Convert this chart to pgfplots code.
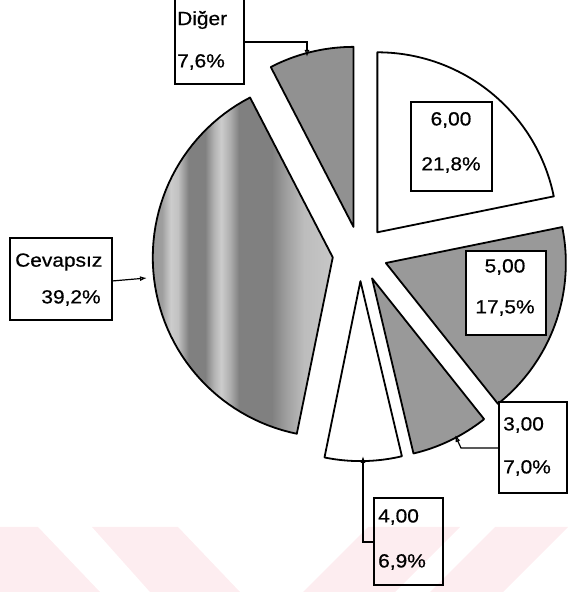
\documentclass[border=0pt]{standalone}
\usepackage{pgfplots}
\pgfplotsset{compat=1.18}
\usepackage{fontspec}
\setmainfont{Liberation Sans}[FakeStretch=1.1,FakeBold=0.6]
\usetikzlibrary{arrows.meta}
\definecolor{wm}{RGB}{253,237,240}
\pgfdeclarehorizontalshading{cevap}{100bp}{color(0bp)=(black!40); color(25bp)=(black!40); color(27.5bp)=(black!38); color(30bp)=(black!20); color(32bp)=(black!24); color(35bp)=(black!50); color(39.5bp)=(black!50); color(42bp)=(black!30); color(44bp)=(black!20); color(46.5bp)=(black!32); color(49bp)=(black!50); color(58bp)=(black!50); color(62bp)=(black!38); color(67bp)=(black!26); color(75bp)=(black!22); color(100bp)=(black!22)}
% pie data: cumulative share before the slice, share (%), style
\newcommand{\pieslice}[3]{%
  \pgfmathsetmacro{\sa}{90-3.6*#1}%
  \pgfmathsetmacro{\sb}{90-3.6*(#1+#2)}%
  \pgfmathsetmacro{\sm}{(\sa+\sb)/2}%
  \pgfmathsetmacro{\scx}{360+27.5*cos(\sm)}%
  \pgfmathsetmacro{\scy}{338.4+27.5*sin(\sm)}%
  \edef\temp{\noexpand\addplot[slice,#3,domain=\sb:\sa,samples=60] ({\scx+180*cos(x)},{\scy+180*sin(x)}) -- (axis cs:\scx,\scy) -- cycle;}%
  \temp
}
\begin{document}
\begin{tikzpicture}[
  slice/.style={draw=black, line width=1.8pt, line join=round},
  lab/.style={font=\fontsize{19}{22}\selectfont, inner sep=0pt},
  box/.style={draw=black, line width=1.4pt},
  arr/.style={draw=black, line width=1.2pt, -{Latex[open,length=7pt,width=5pt]}},
]
\clip (0,0) rectangle (568pt,592pt);
\begin{axis}[
  scale only axis, width=568pt, height=592pt,
  xmin=0, xmax=568, ymin=0, ymax=592,
  hide axis, clip=false,
]
% watermark
\fill[wm] (axis cs:0,65) -- (axis cs:38,65) -- (axis cs:100,0) -- (axis cs:0,0) -- cycle;
\fill[wm] (axis cs:92,65) -- (axis cs:178,65) -- (axis cs:240,0) -- (axis cs:150,0) -- cycle;
\fill[wm] (axis cs:368,65) -- (axis cs:460,65) -- (axis cs:395,0) -- (axis cs:303,0) -- cycle;
\fill[wm] (axis cs:495,65) -- (axis cs:568,65) -- (axis cs:503,0) -- (axis cs:430,0) -- cycle;
% slices clockwise from the top
\pieslice{0}{21.8}{fill=white}
\pieslice{21.8}{17.5}{fill=black!40}
\pieslice{39.3}{7.0}{fill=black!40}
\pieslice{46.3}{6.9}{fill=white}
\pieslice{53.2}{39.2}{shading=cevap}
\pieslice{92.4}{7.6}{fill=black!43}
% label boxes
\draw[box, fill=white] (axis cs:175,508) rectangle (axis cs:244,593);
\node[lab, anchor=west] at (axis cs:177,572) {Diğer};
\node[lab, anchor=west] at (axis cs:177,530) {7,6\%};
\draw[arr] (axis cs:244,550) -| (axis cs:307,535);
\draw[box, fill=white] (axis cs:411,401) rectangle (axis cs:492,490);
\node[lab] at (axis cs:451,472) {6,00};
\node[lab] at (axis cs:451,427) {21,8\%};
\draw[box, fill=white] (axis cs:466,257) rectangle (axis cs:546,341);
\node[lab] at (axis cs:505,325) {5,00};
\node[lab] at (axis cs:505,284) {17,5\%};
\draw[box, fill=white] (axis cs:499,99) rectangle (axis cs:567,190);
\node[lab, anchor=west] at (axis cs:503,167) {3,00};
\node[lab, anchor=west] at (axis cs:503,124) {7,0\%};
\draw[arr] (axis cs:499,144) -- (axis cs:461,144) -- (axis cs:455,157);
\draw[box] (axis cs:374,7) rectangle (axis cs:443,94);
\node[lab, anchor=west] at (axis cs:378,75) {4,00};
\node[lab, anchor=west] at (axis cs:378,30) {6,9\%};
\draw[arr] (axis cs:374,50) -- (axis cs:363,50) -- (axis cs:363,136);
\draw[box, fill=white] (axis cs:10,272) rectangle (axis cs:112,354);
\node[lab, anchor=west] at (axis cs:15,330) {Cevapsız};
\node[lab] at (axis cs:71,294) {39,2\%};
\draw[arr] (axis cs:112,311) -- (axis cs:147,314);
\end{axis}
\end{tikzpicture}
\end{document}
